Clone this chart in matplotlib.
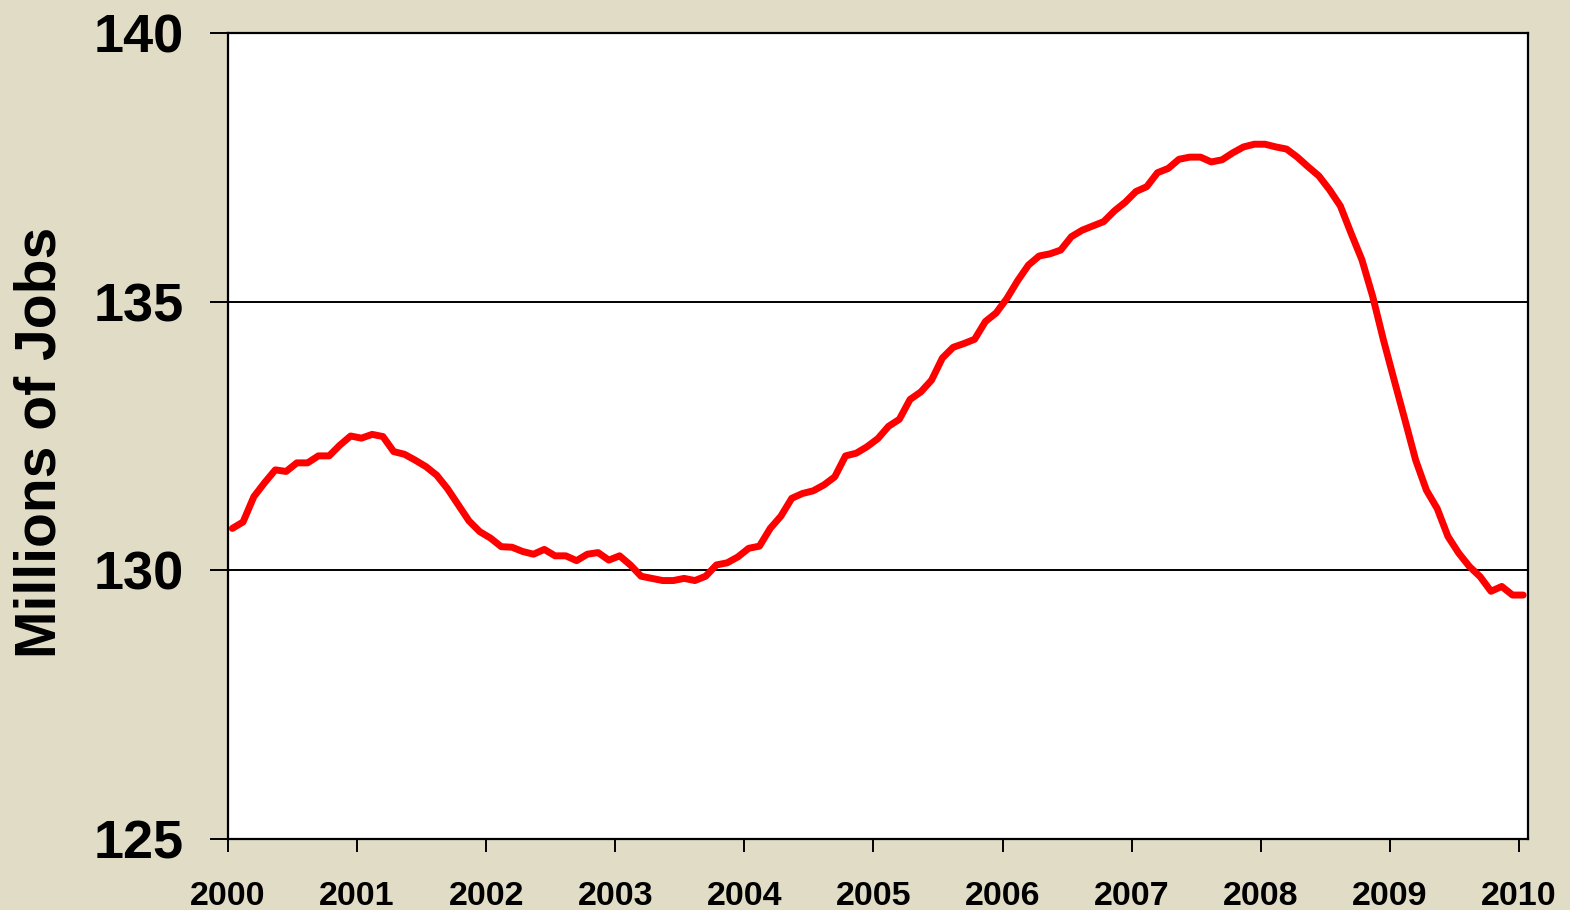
# nonfarm payroll jobs, Jan 2000 - Jan 2010

import numpy as np
import matplotlib
matplotlib.use("Agg")
import matplotlib.pyplot as plt
from matplotlib.transforms import ScaledTranslation

# monthly values (millions of jobs)
jobs = [
    130.78, 130.90, 131.37, 131.63, 131.87, 131.84, 132.00, 132.00, 132.13, 132.13, 132.33, 132.50,  # 2000
    132.46, 132.53, 132.49, 132.21, 132.16, 132.05, 131.93, 131.77, 131.52, 131.22, 130.92, 130.72,  # 2001
    130.60, 130.44, 130.43, 130.35, 130.30, 130.39, 130.27, 130.27, 130.18, 130.30, 130.33, 130.19,  # 2002
    130.27, 130.10, 129.89, 129.85, 129.81, 129.81, 129.85, 129.81, 129.89, 130.10, 130.14, 130.25,  # 2003
    130.41, 130.45, 130.78, 131.01, 131.34, 131.43, 131.48, 131.59, 131.74, 132.13, 132.18, 132.30,  # 2004
    132.45, 132.68, 132.81, 133.18, 133.32, 133.54, 133.95, 134.15, 134.22, 134.30, 134.63, 134.79,  # 2005
    135.06, 135.39, 135.68, 135.85, 135.89, 135.96, 136.21, 136.33, 136.41, 136.49, 136.69, 136.85,  # 2006
    137.05, 137.14, 137.40, 137.48, 137.65, 137.69, 137.69, 137.60, 137.64, 137.77, 137.88, 137.93,  # 2007
    137.93, 137.88, 137.84, 137.69, 137.51, 137.34, 137.08, 136.78, 136.27, 135.78, 135.10, 134.29,  # 2008
    133.54, 132.80, 132.05, 131.49, 131.15, 130.63, 130.32, 130.07, 129.88, 129.61, 129.70, 129.54,  # 2009
    129.54,  # Jan 2010
]
years = list(range(2000, 2011))
y_ticks = [125, 130, 135, 140]

# x position of each month in fractional years
x = 2000 + (np.arange(len(jobs)) + 0.4) / 12

bg = "#E0DCC6"
plt.rcParams["font.family"] = ["Liberation Sans", "DejaVu Sans"]
plt.rcParams["font.weight"] = "bold"

fig = plt.figure(figsize=(15.7, 9.1), dpi=100, facecolor=bg)
ax = fig.add_axes([228 / 1570, 1 - 839 / 910, 1300 / 1570, 806 / 910])
ax.set_facecolor("white")

ax.plot(x, jobs, color="#FF0000", linewidth=5, solid_joinstyle="round", solid_capstyle="round", zorder=3)

ax.set_xlim(2000, 2010.07)
ax.set_ylim(125, 140)
ax.set_xticks(years)
ax.set_yticks(y_ticks)
ax.set_xticklabels([str(v) for v in years], fontsize=24.5, fontweight="bold")
ax.set_yticklabels([str(v) for v in y_ticks], fontsize=39, fontweight="bold")

# year labels sit a little right of their ticks in the original
shift = ScaledTranslation(5 / 100, 0, fig.dpi_scale_trans)
for lab in ax.get_xticklabels():
    lab.set_transform(lab.get_transform() + shift)

# horizontal gridlines
for v in y_ticks[1:3]:
    ax.axhline(v, color="black", linewidth=1.4, zorder=2)

for s in ax.spines.values():
    s.set_linewidth(1.6)
    s.set_color("black")

ax.tick_params(axis="y", direction="out", length=13, width=1.4, pad=19)
ax.tick_params(axis="x", direction="out", length=9, width=1.4, pad=21)

fig.text(41 / 1570, 1 - 442 / 910, "Millions of Jobs", rotation=90, ha="center", va="center",
         fontsize=41, fontweight="bold")

fig.savefig("out.png", dpi=100, facecolor=bg)
